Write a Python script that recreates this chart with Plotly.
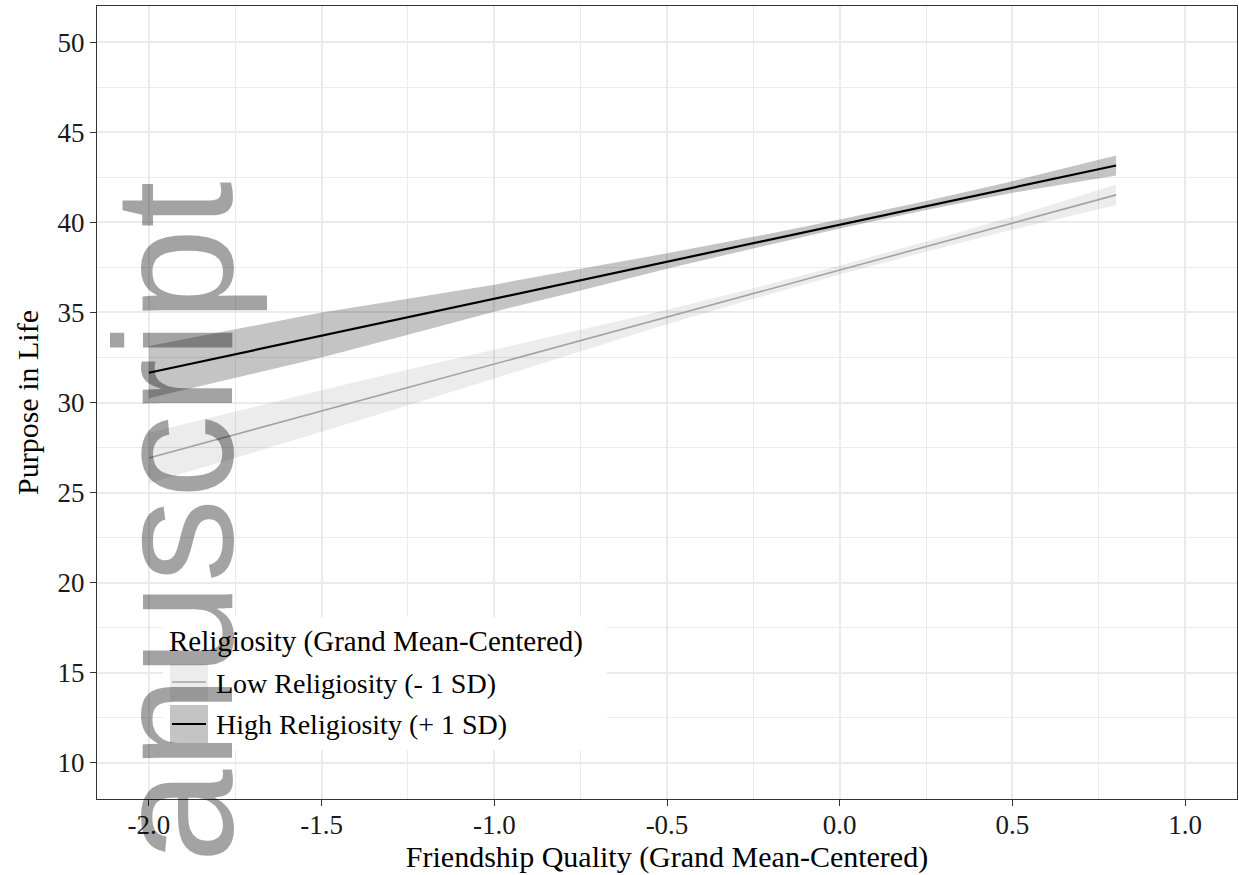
import plotly.graph_objects as go

# ---- data ----
band_x = [-2.0, -1.75, -1.5, -1.25, -1.0, -0.75, -0.5, -0.25, 0.0, 0.25, 0.5, 0.8]
high_upper = [33.13, 34.06, 34.99, 35.76, 36.54, 37.42, 38.28, 39.19, 40.15, 41.18, 42.28, 43.70]
high_lower = [30.23, 31.36, 32.49, 33.76, 35.04, 36.22, 37.42, 38.55, 39.65, 40.68, 41.64, 42.60]
low_upper = [28.32, 29.52, 30.68, 31.83, 32.93, 34.04, 35.14, 36.34, 37.60, 38.93, 40.30, 42.10]
low_lower = [25.52, 26.92, 28.38, 29.83, 31.33, 32.84, 34.34, 35.74, 37.10, 38.37, 39.60, 40.94]

line_x = [-2.0, 0.8]
high_line = [31.65, 43.15]
low_line = [26.92, 41.52]

series_names = ["Low Religiosity (- 1 SD)", "High Religiosity (+ 1 SD)"]
legend_title = "Religiosity (Grand Mean-Centered)"
x_title = "Friendship Quality (Grand Mean-Centered)"
y_title = "Purpose in Life"
x_ticks = [-2.0, -1.5, -1.0, -0.5, 0.0, 0.5, 1.0]
y_ticks = [10, 15, 20, 25, 30, 35, 40, 45, 50]
watermark = "Manuscript"

# ---- styles ----
W, H = 1239, 875
ML, MR, MT, MB = 97, 2, 6, 76
SERIF = "Liberation Serif, Times New Roman, serif"
LOW_FILL = "rgba(0,0,0,0.075)"
HIGH_FILL = "rgba(0,0,0,0.23)"
LOW_LINE = "#a3a3a3"
HIGH_LINE = "#000000"


def px_x(p):
    return (p - ML) / (W - ML - MR)


def px_y(p):
    return (H - MB - p) / (H - MT - MB)


fig = go.Figure()

for up, lo, fill in [(low_upper, low_lower, LOW_FILL), (high_upper, high_lower, HIGH_FILL)]:
    fig.add_trace(go.Scatter(x=band_x, y=up, mode="lines", line=dict(width=0),
                             showlegend=False, hoverinfo="skip"))
    fig.add_trace(go.Scatter(x=band_x, y=lo, mode="lines", line=dict(width=0),
                             fill="tonexty", fillcolor=fill, showlegend=False, hoverinfo="skip"))

fig.add_trace(go.Scatter(x=line_x, y=low_line, mode="lines", name=series_names[0],
                         line=dict(color=LOW_LINE, width=1.6), showlegend=False))
fig.add_trace(go.Scatter(x=line_x, y=high_line, mode="lines", name=series_names[1],
                         line=dict(color=HIGH_LINE, width=2.2), showlegend=False))

grid = "#ebebeb"
axis_common = dict(
    showline=True, mirror=True, linecolor="#333333", linewidth=1.2,
    ticks="outside", ticklen=6, tickcolor="#333333", tickwidth=1.2,
    showgrid=True, gridcolor=grid, gridwidth=1.6, zeroline=False,
    tickfont=dict(family=SERIF, size=27, color="#1a1a1a"),
    title_font=dict(family=SERIF, size=30, color="#000000"),
    automargin=False,
)

fig.update_xaxes(range=[-2.15, 1.15], tickvals=x_ticks, ticktext=[f"{v:.1f}" for v in x_ticks],
                 minor=dict(dtick=0.25, tick0=-2.0, showgrid=True, gridcolor=grid, gridwidth=1.1, ticks=""),
                 ticklabelstandoff=-5,
                 title_text=x_title, title_standoff=4, **axis_common)
fig.update_yaxes(range=[8, 52], tickvals=y_ticks, ticktext=[str(v) for v in y_ticks],
                 minor=dict(dtick=2.5, tick0=10, showgrid=True, gridcolor=grid, gridwidth=1.1, ticks=""),
                 title_text=y_title, title_standoff=10, **axis_common)

# ---- legend drawn inside the panel (ggplot style keys) ----
shapes = [
    dict(type="rect", xref="paper", yref="paper", layer="above",
         x0=px_x(163), x1=px_x(607), y0=px_y(750), y1=px_y(617),
         fillcolor="white", line=dict(width=0)),
    dict(type="rect", xref="paper", yref="paper", layer="above",
         x0=px_x(170), x1=px_x(208), y0=px_y(701), y1=px_y(664),
         fillcolor=LOW_FILL, line=dict(width=0)),
    dict(type="rect", xref="paper", yref="paper", layer="above",
         x0=px_x(170), x1=px_x(208), y0=px_y(743), y1=px_y(705),
         fillcolor=HIGH_FILL, line=dict(width=0)),
    dict(type="line", xref="paper", yref="paper", layer="above",
         x0=px_x(172), x1=px_x(206), y0=px_y(682), y1=px_y(682),
         line=dict(color=LOW_LINE, width=1.6)),
    dict(type="line", xref="paper", yref="paper", layer="above",
         x0=px_x(172), x1=px_x(206), y0=px_y(724), y1=px_y(724),
         line=dict(color=HIGH_LINE, width=2.2)),
]

annotations = [
    dict(text=watermark, xref="paper", yref="paper", x=px_x(174), y=px_y(592),
         xanchor="center", yanchor="middle", textangle=-90, showarrow=False,
         font=dict(family="Liberation Sans, Arial, sans-serif", size=168, color="rgba(0,0,0,0.36)")),
    dict(text=legend_title, xref="paper", yref="paper", x=px_x(167), y=px_y(641),
         xanchor="left", yanchor="middle", showarrow=False,
         font=dict(family=SERIF, size=29, color="#000000")),
    dict(text=series_names[0], xref="paper", yref="paper", x=px_x(214), y=px_y(683),
         xanchor="left", yanchor="middle", showarrow=False,
         font=dict(family=SERIF, size=28, color="#000000")),
    dict(text=series_names[1], xref="paper", yref="paper", x=px_x(214), y=px_y(724),
         xanchor="left", yanchor="middle", showarrow=False,
         font=dict(family=SERIF, size=28, color="#000000")),
]

fig.update_layout(
    width=W, height=H, autosize=False,
    margin=dict(l=ML, r=MR, t=MT, b=MB, pad=0, autoexpand=False),
    paper_bgcolor="white", plot_bgcolor="white",
    showlegend=False, shapes=shapes, annotations=annotations,
)

fig.write_html(
    "out.html",
    config={"displayModeBar": False},
    post_script="document.body.style.margin='0';document.body.style.overflow='hidden';",
)
